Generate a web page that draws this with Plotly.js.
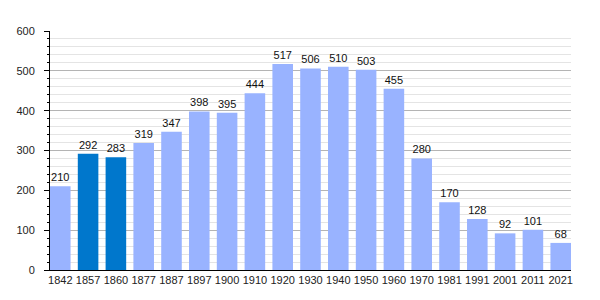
<!DOCTYPE html>
<html>
<head>
<meta charset="utf-8">
<script src="https://cdn.plot.ly/plotly-3.0.1.min.js"></script>
<style>html,body{margin:0;padding:0;background:#fff}#chart{width:600px;height:300px}</style>
</head>
<body>
<div id="chart"></div>
<script>
const years = ["1842","1857","1860","1877","1887","1897","1900","1910","1920","1930","1940","1950","1960","1970","1981","1991","2001","2011","2021"];
const population = [210,292,283,319,347,398,395,444,517,506,510,503,455,280,170,128,92,101,68];
const highlighted = ["1857","1860"];
const lightColor = "#99b3ff";
const darkColor = "#0077cc";

const colors = years.map(y => highlighted.includes(y) ? darkColor : lightColor);

const trace = {
  type: "bar",
  x: years,
  y: population,
  marker: {color: colors, line: {width: 0}},
  text: population.map(String),
  textposition: "outside",
  textfont: {family: "Liberation Sans, Arial, sans-serif", size: 11, color: "#111"},
  cliponaxis: false,
  hoverinfo: "none"
};

const layout = {
  width: 600, height: 300,
  margin: {l: 50, r: 29, t: 31, b: 30},
  paper_bgcolor: "#fff", plot_bgcolor: "#fff",
  bargap: 0.26,
  showlegend: false,
  font: {family: "Liberation Sans, Arial, sans-serif", size: 11, color: "#222"},
  xaxis: {
    type: "category",
    range: [-0.37, 18.37],
    showline: true, linecolor: "#000", linewidth: 1,
    ticks: "", showgrid: false,
    tickfont: {size: 11, color: "#222"},
    fixedrange: true
  },
  yaxis: {
    range: [0, 600],
    dtick: 100,
    showline: true, linecolor: "#000", linewidth: 1,
    ticks: "outside", ticklen: 5, tickcolor: "#000",
    ticklabelstandoff: 7,
    gridcolor: "#b4b4b4", gridwidth: 1,
    zeroline: false,
    tickfont: {size: 11, color: "#222"},
    minor: {dtick: 20, showgrid: true, gridcolor: "#e4e4e4", gridwidth: 1, ticks: "outside", ticklen: 2, tickcolor: "#000"},
    fixedrange: true
  }
};

Plotly.newPlot("chart", [trace], layout, {staticPlot: true, displayModeBar: false});
</script>
</body>
</html>
